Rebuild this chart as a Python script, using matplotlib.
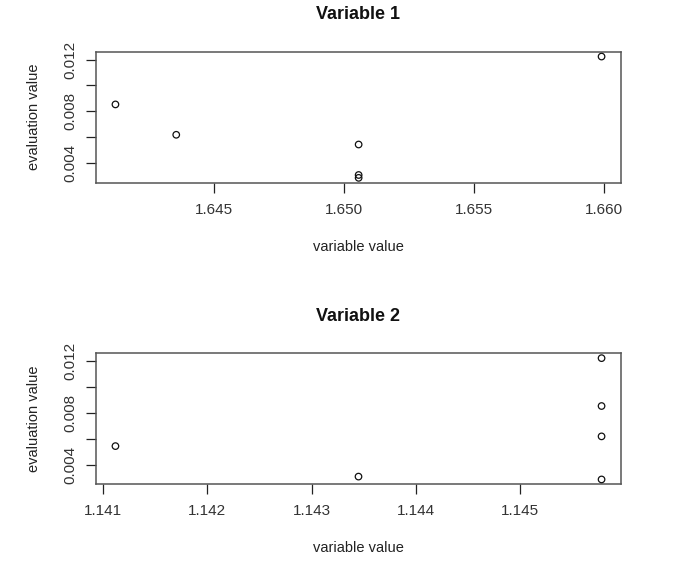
import numpy as np
import matplotlib
matplotlib.use("Agg")
from matplotlib import pyplot as plt

plt.rcParams['font.family'] = ['Liberation Sans', 'DejaVu Sans']

# evaluation values shared by both variables
eval_values = [0.01223, 0.00854, 0.0062, 0.00545, 0.0031, 0.00288]
# variable values for each run
var1_values = [1.6599, 1.64119, 1.64353, 1.65055, 1.65055, 1.65055]
var2_values = [1.14578, 1.14578, 1.14578, 1.14112, 1.14345, 1.14578]

titles = ['Variable 1', 'Variable 2']
var1_ticks = [1.645, 1.650, 1.655, 1.660]
var2_ticks = [1.141, 1.142, 1.143, 1.144, 1.145]
y_ticks = [0.004, 0.006, 0.008, 0.010, 0.012]
y_labels = ['0.004', '', '0.008', '', '0.012']

W, H = 675, 567
fig = plt.figure(figsize=(W / 100, H / 100), dpi=100)

# axes boxes in pixels: left, top, right, bottom
boxes = [(96, 51.7, 621, 182.7), (96, 353.3, 621, 484.3)]

panels = [(var1_values, var1_ticks, '%.3f'), (var2_values, var2_ticks, '%.3f')]

for i, (xs, xticks, fmt) in enumerate(panels):
    l, t, r, b = boxes[i]
    ax = fig.add_axes([l / W, 1 - b / H, (r - l) / W, (b - t) / H])
    ax.scatter(xs, eval_values, s=22, facecolors='none', edgecolors='#111111',
               linewidths=0.9, zorder=3)
    ax.margins(x=0.04, y=0.04)

    ax.set_xticks(xticks)
    ax.set_xticklabels([fmt % v for v in xticks])
    ax.set_yticks(y_ticks)
    ax.set_yticklabels(y_labels)

    for s in ax.spines.values():
        s.set_color('#555555')
        s.set_linewidth(1.1)
    ax.tick_params(axis='both', direction='out', length=7, width=0.9,
                   color='#222222', labelsize=11, labelcolor='#333333')
    ax.tick_params(axis='x', pad=7.5)
    ax.tick_params(axis='y', pad=6.5)
    plt.setp(ax.get_yticklabels(), rotation=90, va='center')

    ax.set_xlabel('variable value', fontsize=10.5, color='#222222')
    ax.xaxis.set_label_coords(0.5, -64 / (b - t))
    ax.xaxis.label.set_va('center')
    ax.set_ylabel('evaluation value', fontsize=10.5, color='#222222')
    ax.yaxis.set_label_coords(-62 / (r - l), 0.5)
    ax.yaxis.label.set_va('center')

    ax.set_title(titles[i], fontsize=13, fontweight='bold', color='#111111',
                 y=1 + 37 / (b - t), va='center', pad=0)

fig.savefig('out.png', dpi=100)
